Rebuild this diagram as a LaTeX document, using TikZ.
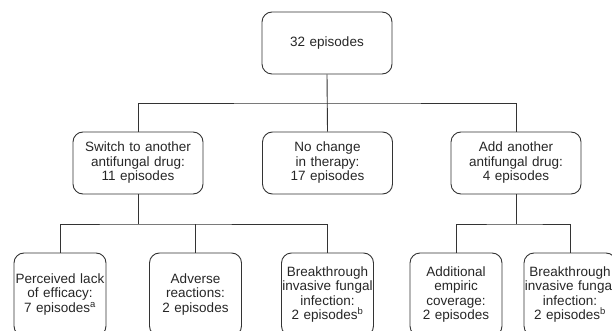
\documentclass[tikz,border=0pt]{standalone}
\usepackage{fontspec}
\setmainfont{Liberation Sans}
\begin{document}
\begin{tikzpicture}[x=1pt,y=-1pt,
  txt/.style={text=black!85},
  box/.style={draw=black!80, line width=0.9pt, rounded corners=10pt, rectangle,
    inner sep=0pt, align=center, txt,
    font=\fontsize{13.5}{14.5}\selectfont},
  topbox/.style={box, minimum width=130pt, minimum height=62pt, text width=126pt},
  lowbox/.style={box, minimum width=92pt, minimum height=83pt, text width=91pt},
  conn/.style={draw=black!80, line width=0.9pt}]
\useasboundingbox (0,0) rectangle (612,331);
\clip (0,0) rectangle (612,331);
\node[topbox] (top) at (327,43) {32 episodes};
\node[topbox] (m1) at (138,163) {Switch to another\\antifungal drug:\\11 episodes};
\node[topbox] (m2) at (327.5,163) {No change\\in therapy:\\17 episodes};
\node[topbox] (m3) at (516,163) {Add another\\antifungal drug:\\4 episodes};
\node[lowbox] (b1) at (60,294.5) {Perceived lack\\of efficacy:\\7 episodes\textsuperscript{a}};
\node[lowbox] (b2) at (195.5,294.5) {Adverse\\reactions:\\2 episodes};
\node[lowbox] (b3) at (327.5,294.5) {Breakthrough\\invasive fungal\\infection:\\2 episodes\textsuperscript{b}};
\node[lowbox] (b4) at (456,294.5) {Additional\\empiric\\coverage:\\2 episodes};
\node[lowbox] (b5) at (570,294.5) {Breakthrough\\invasive fungal\\infection:\\2 episodes\textsuperscript{b}};
\coordinate (j1) at (327.5,103);
\coordinate (j2) at (138,224);
\coordinate (j3) at (516,224);
\draw[conn] (top.south) -- (m2.north);
\draw[conn] (m1.north) |- (j1) -| (m3.north);
\draw[conn] (m1.south) -- (j2);
\draw[conn] (b1.north) |- (j2) -| (b3.north);
\draw[conn] (b2.north) -- (b2.north |- j2);
\draw[conn] (m3.south) -- (j3);
\draw[conn] (b4.north) |- (j3) -| (b5.north);
\end{tikzpicture}
\end{document}
